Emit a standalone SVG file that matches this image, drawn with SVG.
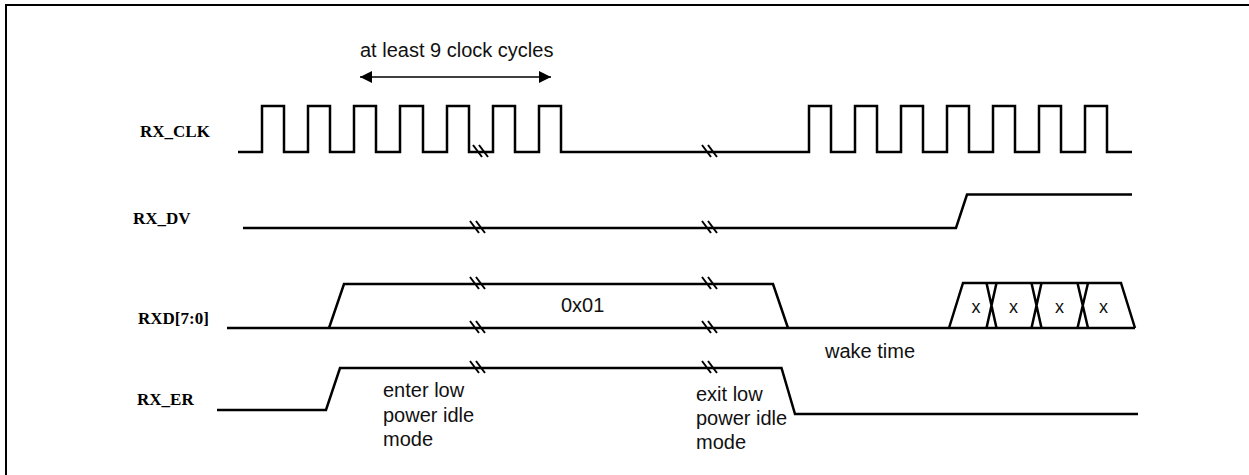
<svg xmlns="http://www.w3.org/2000/svg" width="1249" height="475" viewBox="0 0 1249 475">
<style>
.sig{fill:none;stroke:#000;stroke-width:2.5;stroke-linejoin:miter}
.brk{fill:none;stroke:#000;stroke-width:2}
.lbl{font-family:"Liberation Serif","Times New Roman",serif;font-weight:bold;font-size:17px;fill:#000}
.txt{font-family:"Liberation Sans",Arial,sans-serif;font-size:20px;fill:#111}
.xt{font-family:"Liberation Sans",Arial,sans-serif;font-size:18px;fill:#111;text-anchor:middle}
</style>
<defs>
<marker id="ah" viewBox="0 0 10 10" refX="10" refY="5" markerWidth="13" markerHeight="12" markerUnits="userSpaceOnUse" orient="auto-start-reverse">
<path d="M0,0 L10,5 L0,10 z" fill="#000"/>
</marker>
<path id="bm" d="M-8,-7 L1,5 M-2,-7 L7,5" class="brk"/>
</defs>
<rect width="1249" height="475" fill="#fff"/>
<path d="M6,475 V5 H1249" fill="none" stroke="#000" stroke-width="2"/>

<g id="RX_CLK">
<text class="lbl" x="140" y="137">RX_CLK</text>
<path class="sig" d="M238,152 H262 V106 H284 V152 H308 V106 H330 V152 H354 V106 H376 V152 H400 V106 H423 V152 H447 V106 H469 V152 H493 V106 H515 V152 H539 V106 H561 V152 H809 V106 H831 V152 H855 V106 H877 V152 H901 V106 H923 V152 H947 V106 H969 V152 H993 V106 H1015 V152 H1039 V106 H1061 V152 H1085 V106 H1107 V152 H1132"/>
<use href="#bm" x="481" y="152"/>
<use href="#bm" x="710" y="152"/>
</g>

<g id="RX_DV">
<text class="lbl" x="133" y="224">RX_DV</text>
<path class="sig" d="M243,228 H956 L967,194.5 H1132"/>
<use href="#bm" x="478" y="228"/>
<use href="#bm" x="710" y="228"/>
</g>

<g id="RXD">
<text class="lbl" x="138" y="324">RXD[7:0]</text>
<path class="sig" d="M227,328 H1135"/>
<path class="sig" d="M329,328 L344,284 H773 L788,328"/>
<use href="#bm" x="478" y="284"/>
<use href="#bm" x="710" y="284"/>
<use href="#bm" x="478" y="328"/>
<use href="#bm" x="710" y="328"/>
<text class="txt" x="561" y="312">0x01</text>
<path class="sig" d="M949,328 L963,283 H1121 L1135,328"/>
<path class="sig" d="M986.5,283 L996.5,328 M996.5,283 L986.5,328 M1031.5,283 L1041.5,328 M1041.5,283 L1031.5,328 M1077.5,283 L1088,328 M1088,283 L1077.5,328"/>
<text class="xt" x="976" y="313">x</text>
<text class="xt" x="1013.5" y="313">x</text>
<text class="xt" x="1059.5" y="313">x</text>
<text class="xt" x="1103.5" y="313">x</text>
<text class="txt" x="825" y="358">wake time</text>
</g>

<g id="RX_ER">
<text class="lbl" x="137" y="405">RX_ER</text>
<path class="sig" d="M217,410 H326 L340,368 H781.5 L795,414 H1138"/>
<use href="#bm" x="478" y="368"/>
<use href="#bm" x="710" y="368"/>
<text class="txt" x="383" y="397">enter low</text>
<text class="txt" x="383" y="421.5">power idle</text>
<text class="txt" x="383" y="446">mode</text>
<text class="txt" x="696" y="401">exit low</text>
<text class="txt" x="696" y="425">power idle</text>
<text class="txt" x="696" y="449">mode</text>
</g>

<g id="connectors">
<text class="txt" x="360" y="57">at least 9 clock cycles</text>
<line x1="360" y1="77" x2="551" y2="77" stroke="#000" stroke-width="1.3" marker-start="url(#ah)" marker-end="url(#ah)"/>
</g>
</svg>
